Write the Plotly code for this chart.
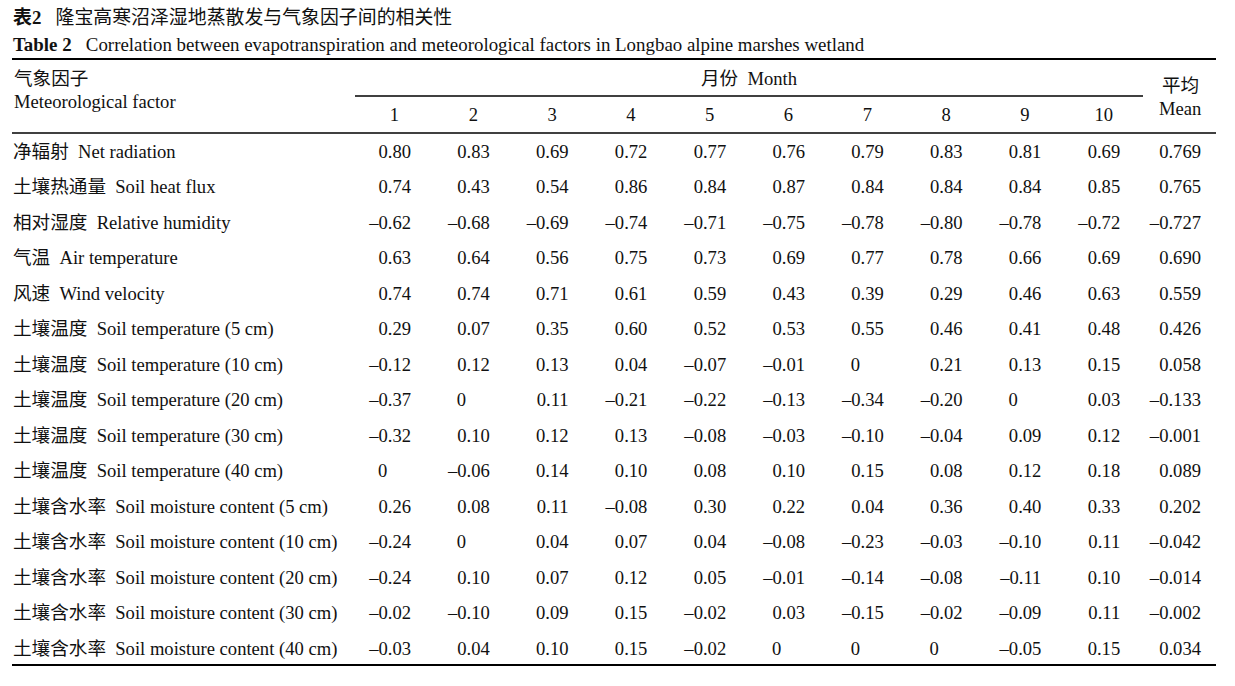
import plotly.graph_objects as go

# --- table content -------------------------------------------------------
TITLE_CN = "隆宝高寒沼泽湿地蒸散发与气象因子间的相关性"
TITLE_EN = "Correlation between evapotranspiration and meteorological factors in Longbao alpine marshes wetland"

MONTHS = ["1", "2", "3", "4", "5", "6", "7", "8", "9", "10"]

FACTOR_CN = ["净辐射", "土壤热通量", "相对湿度", "气温", "风速",
             "土壤温度", "土壤温度", "土壤温度", "土壤温度", "土壤温度",
             "土壤含水率", "土壤含水率", "土壤含水率", "土壤含水率", "土壤含水率"]
FACTOR_EN = ["Net radiation", "Soil heat flux", "Relative humidity", "Air temperature", "Wind velocity",
             "Soil temperature (5 cm)", "Soil temperature (10 cm)", "Soil temperature (20 cm)",
             "Soil temperature (30 cm)", "Soil temperature (40 cm)",
             "Soil moisture content (5 cm)", "Soil moisture content (10 cm)", "Soil moisture content (20 cm)",
             "Soil moisture content (30 cm)", "Soil moisture content (40 cm)"]

net_radiation = [0.80, 0.83, 0.69, 0.72, 0.77, 0.76, 0.79, 0.83, 0.81, 0.69]
soil_heat_flux = [0.74, 0.43, 0.54, 0.86, 0.84, 0.87, 0.84, 0.84, 0.84, 0.85]
relative_humidity = [-0.62, -0.68, -0.69, -0.74, -0.71, -0.75, -0.78, -0.80, -0.78, -0.72]
air_temperature = [0.63, 0.64, 0.56, 0.75, 0.73, 0.69, 0.77, 0.78, 0.66, 0.69]
wind_velocity = [0.74, 0.74, 0.71, 0.61, 0.59, 0.43, 0.39, 0.29, 0.46, 0.63]
soil_temp_5 = [0.29, 0.07, 0.35, 0.60, 0.52, 0.53, 0.55, 0.46, 0.41, 0.48]
soil_temp_10 = [-0.12, 0.12, 0.13, 0.04, -0.07, -0.01, 0, 0.21, 0.13, 0.15]
soil_temp_20 = [-0.37, 0, 0.11, -0.21, -0.22, -0.13, -0.34, -0.20, 0, 0.03]
soil_temp_30 = [-0.32, 0.10, 0.12, 0.13, -0.08, -0.03, -0.10, -0.04, 0.09, 0.12]
soil_temp_40 = [0, -0.06, 0.14, 0.10, 0.08, 0.10, 0.15, 0.08, 0.12, 0.18]
soil_moist_5 = [0.26, 0.08, 0.11, -0.08, 0.30, 0.22, 0.04, 0.36, 0.40, 0.33]
soil_moist_10 = [-0.24, 0, 0.04, 0.07, 0.04, -0.08, -0.23, -0.03, -0.10, 0.11]
soil_moist_20 = [-0.24, 0.10, 0.07, 0.12, 0.05, -0.01, -0.14, -0.08, -0.11, 0.10]
soil_moist_30 = [-0.02, -0.10, 0.09, 0.15, -0.02, 0.03, -0.15, -0.02, -0.09, 0.11]
soil_moist_40 = [-0.03, 0.04, 0.10, 0.15, -0.02, 0, 0, 0, -0.05, 0.15]

MEAN = [0.769, 0.765, -0.727, 0.690, 0.559, 0.426, 0.058, -0.133, -0.001, 0.089,
        0.202, -0.042, -0.014, -0.002, 0.034]

ROWS = [net_radiation, soil_heat_flux, relative_humidity, air_temperature, wind_velocity,
        soil_temp_5, soil_temp_10, soil_temp_20, soil_temp_30, soil_temp_40,
        soil_moist_5, soil_moist_10, soil_moist_20, soil_moist_30, soil_moist_40]

# --- layout (pixels) -----------------------------------------------------
W, H = 1235, 686
ROW0_PX, ROW_PX = 151, 35.5          # centre of first body row, row pitch
TEXT_DY = 2                          # nudge of text centre vs. row centre
COL0_RIGHT, COL_STEP = 411, 78.8     # right edge of month-1 numbers, column pitch
NUM_W = 33                           # width of "0.00"
MEAN_RIGHT, MEAN_CENTER = 1201, 1180
LEFT, RIGHT = 12, 1216
FONT = "'Liberation Serif', 'Times New Roman', 'Noto Sans CJK SC', serif"
FS = 18.6
FS_TITLE = 18.9
INK = "#111111"


def py(px):
    """pixel row -> y-axis value (rows are numbered 0..14)"""
    return (px - ROW0_PX) / ROW_PX


def fmt(v, nd):
    if v == 0:
        return "0"
    s = f"{v:.{nd}f}"
    return s.replace("-", "\u2013")


col_right = [COL0_RIGHT + COL_STEP * j for j in range(len(MONTHS))]
row_y = [py(ROW0_PX + TEXT_DY) + i for i in range(len(ROWS))]

# split cells into right-aligned (non-zero) and bare zeros (aligned on the leading digit)
rx, ry, rt, zx, zy = [], [], [], [], []
for i, row in enumerate(ROWS):
    for j, v in enumerate(row):
        if v == 0:
            zx.append(col_right[j] - NUM_W)
            zy.append(row_y[i])
        else:
            rx.append(col_right[j])
            ry.append(row_y[i])
            rt.append(fmt(v, 2))
    rx.append(MEAN_RIGHT)
    ry.append(row_y[i])
    rt.append(fmt(MEAN[i], 3))

fig = go.Figure()

fig.add_trace(go.Scatter(
    x=rx, y=ry, text=rt, mode="text", textposition="middle left",
    textfont=dict(family=FONT, size=FS, color=INK), hoverinfo="skip",
))
fig.add_trace(go.Scatter(
    x=zx, y=zy, text=["0"] * len(zx), mode="text", textposition="middle right",
    textfont=dict(family=FONT, size=FS, color=INK), hoverinfo="skip",
))
# factor names
fig.add_trace(go.Scatter(
    x=[LEFT + 1] * len(FACTOR_CN), y=row_y,
    text=[f"{cn}\u00a0\u00a0{en}" for cn, en in zip(FACTOR_CN, FACTOR_EN)],
    mode="text", textposition="middle right",
    textfont=dict(family=FONT, size=FS, color=INK), hoverinfo="skip",
))
# month numbers
fig.add_trace(go.Scatter(
    x=[c - NUM_W / 2 for c in col_right], y=[py(116)] * len(MONTHS), text=MONTHS,
    mode="text", textposition="middle center",
    textfont=dict(family=FONT, size=FS, color=INK), hoverinfo="skip",
))


# header / title text
def note(text, xpx, ypx, anchor="left", size=FS):
    fig.add_annotation(x=xpx, y=py(ypx), text=text, showarrow=False, xanchor=anchor,
                       yanchor="middle", xref="x", yref="y",
                       font=dict(family=FONT, size=size, color=INK))


note(f"<b>表2</b>\u00a0\u00a0\u00a0{TITLE_CN}", LEFT - 1, 17, size=FS_TITLE)
note(f"<b>Table 2</b>\u00a0\u00a0\u00a0{TITLE_EN}", LEFT - 1, 44, size=FS_TITLE)
note("气象因子", LEFT, 78)
note("Meteorological factor", LEFT, 101)
note("月份\u00a0\u00a0Month", 749, 78, "center")
note("平均", MEAN_CENTER, 85, "center")
note("Mean", MEAN_CENTER, 108, "center")


# rules
def rule(x0, x1, ypx, w):
    fig.add_shape(type="line", xref="x", yref="y", x0=x0, x1=x1, y0=py(ypx), y1=py(ypx),
                  line=dict(color="black", width=w))


rule(LEFT, RIGHT, 59, 2)
rule(355, 1143, 96, 1.4)
rule(LEFT, RIGHT, 133, 1.6)
rule(LEFT, RIGHT, 665, 2)

fig.update_layout(
    width=W, height=H,
    margin=dict(l=0, r=0, t=0, b=0),
    paper_bgcolor="white", plot_bgcolor="white",
    showlegend=False, hovermode=False,
    xaxis=dict(range=[0, W], visible=False, fixedrange=True),
    yaxis=dict(range=[py(H), py(0)], visible=False, fixedrange=True),
)

fig.write_html(
    "out.html",
    config={"displayModeBar": False},
    post_script="document.body.style.margin='0';",
)
